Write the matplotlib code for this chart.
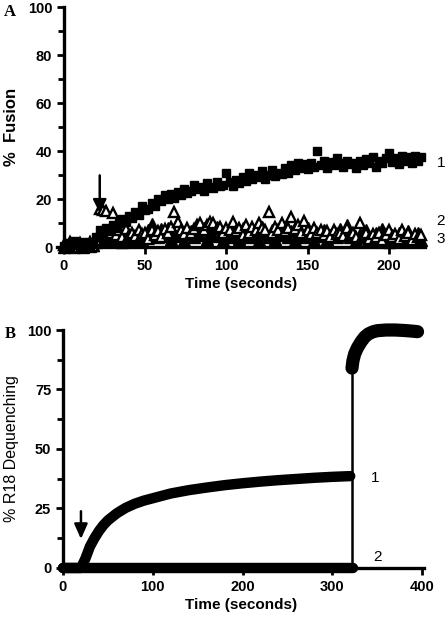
import numpy as np
import matplotlib
matplotlib.use('Agg')
import matplotlib.pyplot as plt
from matplotlib.ticker import MultipleLocator

plt.rcParams['font.family'] = ['Liberation Sans', 'DejaVu Sans']

# panel A: % fusion, sampled every 2 s
time_a = np.arange(0, 222, 2)

fusion_1 = [0.5, 1.5, 0, 2.5, 1, 0, 2, 1, 0.5, 1.5,
            4, 7, 5, 8, 6.5, 9, 8, 10, 11.5, 10.5,
            13, 12, 14.5, 13.5, 17, 15.5, 16, 18.5, 17, 20,
            19, 21.5, 20, 22, 20.5, 23, 21.5, 24, 22.5, 23.5,
            26, 24, 25, 23.5, 26.5, 25, 24.5, 27, 25.5, 26,
            31, 27, 25.5, 28, 26.5, 29, 27.5, 31, 28.5, 30,
            29, 31.5, 28.5, 30, 32, 29.5, 31, 30.5, 33, 31,
            34, 32, 35, 33, 34.5, 32.5, 35, 33.5, 40, 34,
            36, 33, 35.5, 34, 37, 35, 33.5, 36, 34.5, 35,
            33, 36, 34, 36.5, 35, 37.5, 33.5, 36, 35, 37,
            39, 35.5, 37, 34.5, 38, 36, 37.5, 35, 38, 36, 37.5]

fusion_2 = [1, 0.5, 2, 1, 0, 1.5, 0.5, 1, 2, 0.5,
            3, 16, 15.5, 15, 6, 14, 5, 7, 4, 7.5,
            5, 6, 4.5, 7, 5.5, 6, 3.5, 7, 5, 6.5,
            4, 7.5, 6, 8.5, 14.5, 10.5, 7, 5.5, 8, 6,
            7.5, 9, 10, 7, 9, 10.5, 10, 7.5, 8.5, 6,
            8, 7, 10.5, 6.5, 8, 5, 9, 6, 8.5, 7,
            10, 8, 7, 14.5, 6, 8.5, 7, 10, 6.5, 8,
            12.5, 7.5, 9, 6, 11, 7, 5.5, 8, 6, 7,
            5, 6.5, 4, 7, 5.5, 6, 4.5, 8, 5, 6,
            4, 10, 5, 6, 3.5, 5.5, 4, 6, 3, 5,
            7, 4, 5.5, 3.5, 7, 4.5, 6, 3, 5.5, 4, 5]

fusion_3 = [0, 1, 0.5, 0, 1.5, 0.5, 0, 1, 0.5, 1,
            2, 5, 3, 4, 2.5, 5.5, 3, 4, 2, 5,
            3.5, 4.5, 2.5, 6, 3, 5, 7, 9.5, 6, 4,
            7.5, 5, 8, 3.5, 6, 4.5, 7, 3, 5.5, 6.5,
            4, 7, 5, 8, 3.5, 6, 4.5, 8.5, 5, 3,
            6.5, 4, 7.5, 5, 3.5, 8, 6, 4, 7, 5,
            3, 8.5, 5.5, 4, 7, 3.5, 6, 5, 8, 4,
            6.5, 3, 7, 5, 4, 8, 5.5, 3, 6, 4.5,
            7, 3.5, 5, 6.5, 4, 7.5, 5, 9, 4, 6,
            3, 5.5, 4, 7, 3.5, 5, 6, 3, 7.5, 4,
            2, 5, 3.5, 6, 2.5, 4.5, 6.5, 3, 5, 6, 3]

# panel B: % R18 dequenching
time_b1 = [0, 20, 25, 30, 35, 40, 45, 50, 55, 60, 70, 80, 90, 100, 120, 140,
           160, 180, 200, 220, 240, 260, 280, 300, 320]
dequench_1 = [0, 0, 4, 9, 12.5, 15.5, 18, 20, 21.5, 23, 25.3, 27, 28.3, 29.3,
              31.3, 32.7, 33.8, 34.8, 35.6, 36.3, 36.9, 37.4, 37.9, 38.3, 38.6]
time_b2 = [0, 323]
dequench_2 = [0, 0]
time_b3 = [322, 323, 325, 328, 332, 336, 340, 345, 350, 360, 370, 380, 390, 395]
dequench_3 = [84, 87, 90, 92.5, 95, 97, 98.3, 99.2, 99.7, 100, 100, 99.8, 99.5, 99.3]
detergent_t = 322
detergent_top = 85

fig = plt.figure(figsize=(4.48, 6.23), dpi=100)

def style_axes(ax, minor):
    for side in ['top', 'right']:
        ax.spines[side].set_visible(False)
    ax.spines['left'].set_position(('data', 0))
    ax.spines['left'].set_linewidth(2.4)
    ax.spines['bottom'].set_linewidth(2.4)
    ax.yaxis.set_minor_locator(MultipleLocator(minor))
    ax.tick_params(which='both', direction='out', width=2, labelsize=10.5)
    ax.tick_params(which='major', length=5)
    ax.tick_params(which='minor', length=4)
    for lab in ax.get_xticklabels() + ax.get_yticklabels():
        lab.set_fontweight('bold')

# ---- panel A ----
ax1 = fig.add_axes([0.1283, 0.6035, 0.8198, 0.3852])
ax1.plot(time_a, fusion_3, '^', color='black', ms=8.5, clip_on=False)
ax1.plot(time_a, fusion_2, '^', mfc='white', mec='black', mew=1.7, ms=7, clip_on=False)
ax1.plot(time_a, fusion_1, 's', color='black', ms=5.8, clip_on=False)
ax1.set_xlim(-4, 222)
ax1.set_ylim(0, 100)
ax1.set_xticks([0, 50, 100, 150, 200])
ax1.set_yticks([0, 20, 40, 60, 80, 100])
style_axes(ax1, 10)
ax1.set_xlabel('Time (seconds)', fontsize=11, fontweight='bold', labelpad=3)
ax1.set_ylabel('%  Fusion', fontsize=12, fontweight='bold', va='center')
ax1.yaxis.set_label_coords(-0.125, 0.5)
ax1.annotate('', xy=(22, 13), xytext=(22, 31),
             arrowprops=dict(arrowstyle='-|>,head_width=0.4,head_length=0.8',
                             color='black', lw=1.8))
ax1.text(232, 35, '1', fontsize=11, ha='center', va='center', clip_on=False)
ax1.text(232, 11, '2', fontsize=11, ha='center', va='center', clip_on=False)
ax1.text(232, 3.5, '3', fontsize=11, ha='center', va='center', clip_on=False)
fig.text(0.008, 0.975, 'A', fontsize=12, fontweight='bold', family='Liberation Serif')

# ---- panel B ----
ax2 = fig.add_axes([0.1306, 0.0883, 0.8154, 0.382])
ax2.plot([detergent_t, detergent_t], [0, detergent_top], color='black', lw=1.8)
ax2.plot(time_b2, dequench_2, color='black', lw=7.5, solid_capstyle='round', clip_on=False)
ax2.plot(time_b1, dequench_1, color='black', lw=7.5, solid_capstyle='round', clip_on=False)
ax2.plot(time_b3, dequench_3, color='black', lw=9.5, solid_capstyle='round', clip_on=False)
ax2.set_xlim(-5, 402)
ax2.set_ylim(0, 100)
ax2.set_xticks([0, 100, 200, 300, 400])
ax2.set_yticks([0, 25, 50, 75, 100])
style_axes(ax2, 12.5)
ax2.set_xlabel('Time (seconds)', fontsize=11, fontweight='bold', labelpad=3)
ax2.set_ylabel('% R18 Dequenching', fontsize=11.5, va='center')
ax2.yaxis.set_label_coords(-0.128, 0.5)
ax2.annotate('', xy=(20, 11), xytext=(20, 25),
             arrowprops=dict(arrowstyle='-|>,head_width=0.4,head_length=0.9',
                             color='black', lw=1.8))
ax2.text(348, 38, '1', fontsize=11, ha='center', va='center')
ax2.text(350, 4.5, '2', fontsize=11, ha='center', va='center')
fig.text(0.01, 0.457, 'B', fontsize=12, fontweight='bold', family='Liberation Serif')

fig.savefig('out.png', dpi=100)
